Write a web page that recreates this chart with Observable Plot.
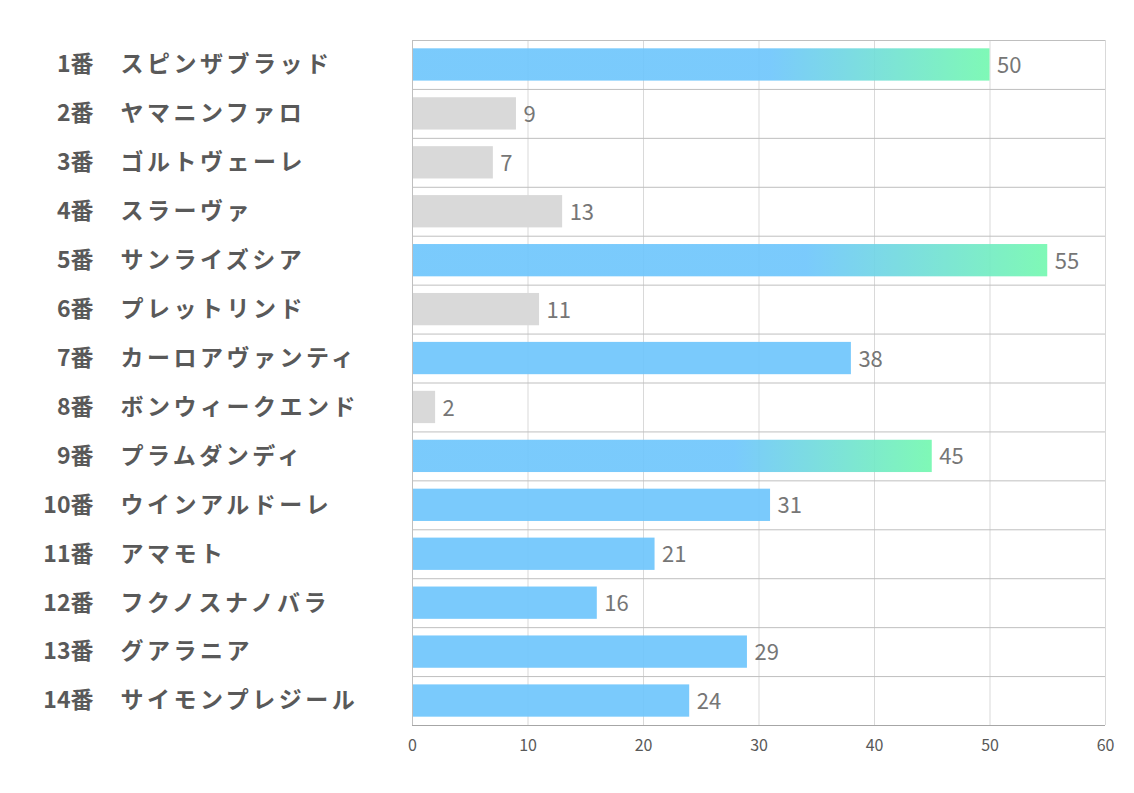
<!DOCTYPE html>
<html><head><meta charset="utf-8">
<script src="https://cdn.jsdelivr.net/npm/d3@7"></script>
<script src="https://cdn.jsdelivr.net/npm/@observablehq/plot@0.6"></script>
<style>
body{margin:0;background:#fff;}
#chart svg{font-family:"Noto Sans CJK JP","Noto Sans",sans-serif;}
</style>
</head><body><div id="chart"></div>
<script>
const numbers = ["1番","2番","3番","4番","5番","6番","7番","8番","9番","10番","11番","12番","13番","14番"];
const names = ["スピンザブラッド","ヤマニンファロ","ゴルトヴェーレ","スラーヴァ","サンライズシア","プレットリンド","カーロアヴァンティ","ボンウィークエンド","プラムダンディ","ウインアルドーレ","アマモト","フクノスナノバラ","グアラニア","サイモンプレジール"];
const values = [50,9,7,13,55,11,38,2,45,31,21,16,29,24];
const xTicks = [0,10,20,30,40,50,60];

const sorted = [...values].sort((a,b)=>b-a);
const top3 = sorted[2];
const data = values.map((v,i)=>({i, num:numbers[i], name:names[i], v,
  kind: v >= top3 ? "grad" : (v >= 15 ? "blue" : "gray")}));
const rows = d3.range(numbers.length + 1);

const chart = Plot.plot({
  width: 1134, height: 793,
  marginLeft: 412, marginRight: 29, marginTop: 40, marginBottom: 68,
  x: {domain:[0,60], axis:null},
  y: {domain:[0, numbers.length], reverse:true, axis:null},
  marks: [
    Plot.ruleX(xTicks, {stroke:"#d9d9d9", strokeWidth:1}),
    Plot.ruleY(rows, {stroke:"#bfbfbf", strokeWidth:1}),
    Plot.rectX(data.filter(d=>d.kind==="gray"), {x1:0, x2:"v", y1:d=>d.i+0.17, y2:d=>d.i+0.83, fill:"#d9d9d9"}),
    Plot.rectX(data.filter(d=>d.kind==="blue"), {x1:0, x2:"v", y1:d=>d.i+0.17, y2:d=>d.i+0.83, fill:"#6fc6fc", fillOpacity:0.92}),
    Plot.rectX(data.filter(d=>d.kind==="grad"), {x1:0, x2:"v", y1:d=>d.i+0.17, y2:d=>d.i+0.83, fill:"url(#bargrad)", fillOpacity:0.92}),
    Plot.ruleY([numbers.length], {stroke:"#a6a6a6", strokeWidth:1}),
    Plot.ruleX([0], {stroke:"#bfbfbf", strokeWidth:1}),
    Plot.text(xTicks, {x:d=>d, frameAnchor:"bottom", dy:25, text:d=>String(d), fontSize:16, fill:"#595959"}),
    Plot.text(data, {x:"v", y:d=>d.i+0.5, text:d=>String(d.v), dx:7, dy:1, textAnchor:"start", fontSize:22, fill:"#767676"}),
    Plot.text(data, {frameAnchor:"left", y:d=>d.i+0.5, text:"num", dx:-319, textAnchor:"end", fontSize:23, fontWeight:"bold", fill:"#595959"}),
    Plot.text(data, {frameAnchor:"left", y:d=>d.i+0.5, text:"name", dx:-292, textAnchor:"start", fontSize:23, fontWeight:"bold", fill:"#595959"})
  ]
});

d3.select(chart).selectAll("text").filter(function(){ return names.includes(this.textContent); })
  .style("letter-spacing", "3.5px");

const svgns = "http://www.w3.org/2000/svg";
const defs = document.createElementNS(svgns, "defs");
defs.innerHTML = `<linearGradient id="bargrad" x1="0" x2="1" y1="0" y2="0">
  <stop offset="0" stop-color="#6fc6fc"/>
  <stop offset="0.62" stop-color="#6fc6fc"/>
  <stop offset="1" stop-color="#74f8b0"/>
</linearGradient>`;
chart.insertBefore(defs, chart.firstChild);
document.getElementById("chart").appendChild(chart);
</script>
</body></html>
